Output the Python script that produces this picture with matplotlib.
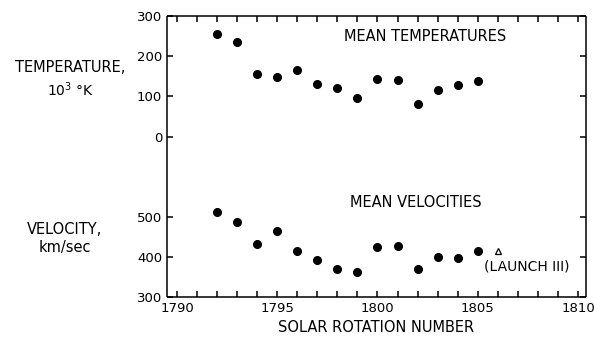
import matplotlib
matplotlib.use("Agg")
import matplotlib.pyplot as plt

# solar rotation numbers and mean values per rotation
rotations = [1792, 1793, 1794, 1795, 1796, 1797, 1798, 1799, 1800, 1801, 1802, 1803, 1804, 1805]
temps = [256, 235, 156, 148, 166, 131, 122, 97, 143, 142, 82, 117, 128, 138]  # 10^3 K
vels = [513, 488, 432, 465, 416, 392, 370, 363, 424, 428, 369, 401, 397, 416]  # km/sec
launch_rot = [1806]
launch_vel = [415]

temp_ticks = [0, 100, 200, 300]
vel_ticks = [300, 400, 500]
x_labels = [1790, 1795, 1800, 1805, 1810]

plt.rcParams['font.family'] = ['DejaVu Sans']
plt.rcParams['font.size'] = 9.5

fig = plt.figure(figsize=(5.94, 3.37), dpi=100)
ax_t = fig.add_axes([0.281, 0.4748, 0.7055, 0.4777])
ax_v = fig.add_axes([0.281, 0.1187, 0.7055, 0.3561])

lw = 1.1
for ax in (ax_t, ax_v):
    ax.set_xlim(1789.5, 1810.4)
    for s in ax.spines.values():
        s.set_linewidth(lw)
        s.set_capstyle('butt')
    ax.tick_params(direction='in', length=4.5, width=lw, right=True, labelsize=9.5)
    ax.set_xticks(range(1790, 1811), minor=True)
    ax.set_xticks(x_labels)
    ax.tick_params(which='minor', direction='in', length=4.5, width=lw)

# top panel: temperatures
ax_t.set_ylim(-100, 300)
ax_t.set_yticks(temp_ticks)
ax_t.spines['bottom'].set_visible(False)
ax_t.tick_params(which='both', top=True, bottom=False, labelbottom=False)
ax_t.plot(rotations, temps, 'o', color='black', markersize=5.5)
ax_t.text(1802.4, 250, "MEAN TEMPERATURES", ha='center', va='center', fontsize=10.5)

# bottom panel: velocities
ax_v.set_ylim(300, 600)
ax_v.set_yticks(vel_ticks)
ax_v.spines['top'].set_visible(False)
ax_v.tick_params(which='both', top=False, bottom=True)
ax_v.set_xticklabels([str(x) for x in x_labels])
ax_v.plot(rotations, vels, 'o', color='black', markersize=5.5)
ax_v.plot(launch_rot, launch_vel, '^', markerfacecolor='white',
          markeredgecolor='black', markersize=4.5, markeredgewidth=0.9)
ax_v.text(1801.9, 535, "MEAN VELOCITIES", ha='center', va='center', fontsize=10.5)
ax_v.text(1807.45, 375, "(LAUNCH III)", ha='center', va='center', fontsize=10)
ax_v.set_xlabel("SOLAR ROTATION NUMBER", labelpad=4, fontsize=10.5)

# side labels
fig.text(0.119, 0.80, "TEMPERATURE,", ha='center', va='center', fontsize=10.5)
fig.text(0.119, 0.733, r"10$^3$ °K", ha='center', va='center', fontsize=10)
fig.text(0.109, 0.319, "VELOCITY,", ha='center', va='center', fontsize=10.5)
fig.text(0.109, 0.265, "km/sec", ha='center', va='center', fontsize=10.5)

fig.savefig("out.png", dpi=100)
